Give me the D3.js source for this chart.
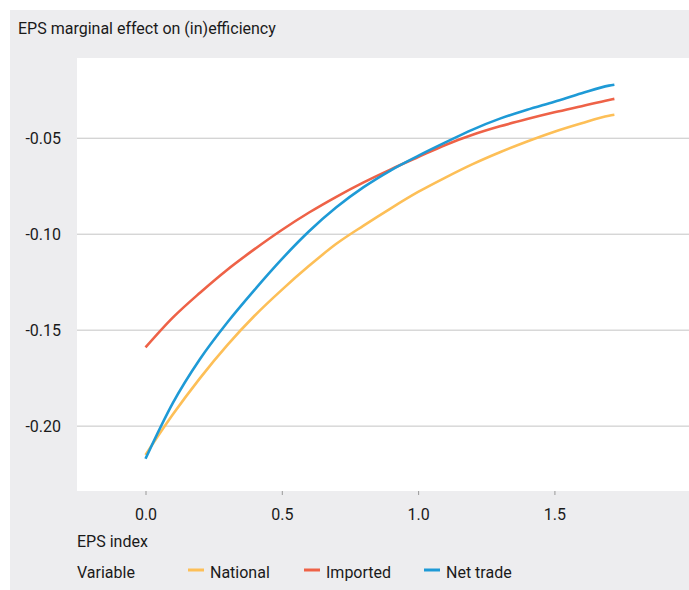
<!DOCTYPE html>
<html>
<head>
<meta charset="utf-8">
<script src="https://cdn.jsdelivr.net/npm/d3@7"></script>
<style>
  html, body { margin: 0; padding: 0; background: #fff; }
  svg { display: block; }
  text { font-family: Roboto, "Liberation Sans", Arial, sans-serif; fill: #1a1a1a; }
</style>
</head>
<body>
<svg id="chart" width="689" height="590"></svg>
<script>
// ---- data ----
const epsIndex = [0, 0.1, 0.2, 0.3, 0.4, 0.5, 0.6, 0.7, 0.8, 0.9, 1.0, 1.1, 1.2, 1.3, 1.4, 1.5, 1.6, 1.7, 1.72];
const national = [-0.215, -0.194, -0.175, -0.1578, -0.1425, -0.129, -0.1165, -0.105, -0.0955, -0.0865, -0.078, -0.0705, -0.0635, -0.0573, -0.0517, -0.0466, -0.0422, -0.0383, -0.0378];
const imported = [-0.159, -0.1435, -0.1305, -0.1185, -0.1078, -0.0978, -0.0887, -0.0805, -0.073, -0.0662, -0.0598, -0.0535, -0.0482, -0.0438, -0.0400, -0.0365, -0.0333, -0.0301, -0.0295];
const netTrade = [-0.217, -0.188, -0.165, -0.146, -0.129, -0.113, -0.0985, -0.086, -0.0755, -0.0667, -0.0592, -0.0522, -0.0455, -0.0398, -0.0352, -0.0310, -0.0266, -0.0226, -0.0221];
const seriesNames = ["National", "Imported", "Net trade"];
const seriesColors = ["#FDBF57", "#EE6247", "#1E9AD6"];
const xTicks = [0, 0.5, 1.0, 1.5];
const yTicks = [-0.20, -0.15, -0.10, -0.05];
const titleText = "EPS marginal effect on (in)efficiency";
const xLabel = "EPS index";
const legendTitle = "Variable";

const series = [national, imported, netTrade].map((vals, i) => ({
  name: seriesNames[i], color: seriesColors[i],
  points: epsIndex.map((x, j) => ({ x, y: vals[j] }))
}));

// ---- layout ----
const W = 689, H = 590;
const panel = { left: 77, top: 58, right: 689, bottom: 491 };
const svg = d3.select("#chart");

svg.append("rect").attr("x", 10).attr("y", 10).attr("width", W - 10).attr("height", H - 10)
  .attr("fill", "#EDEDEF");
svg.append("rect").attr("x", panel.left).attr("y", panel.top)
  .attr("width", panel.right - panel.left).attr("height", panel.bottom - panel.top)
  .attr("fill", "#ffffff");

const x = d3.scaleLinear().domain([-0.2513, 1.9937]).range([panel.left, panel.right]);
const y = d3.scaleLinear().domain([-0.2338, -0.0082]).range([panel.bottom, panel.top]);

// grid lines
svg.append("g").selectAll("line").data(yTicks).join("line")
  .attr("x1", panel.left).attr("x2", panel.right)
  .attr("y1", d => y(d)).attr("y2", d => y(d))
  .attr("stroke", "#C4C4C4").attr("stroke-width", 1);

// y axis labels
const yAxis = d3.axisLeft(y).tickValues(yTicks).tickFormat(d3.format(".2f")).tickSize(0).tickPadding(0);
const gy = svg.append("g").attr("transform", `translate(61,0)`).call(yAxis);
gy.select(".domain").remove();
gy.selectAll("text").attr("font-size", 16).attr("fill", "#1a1a1a")
  .attr("font-family", "Roboto, 'Liberation Sans', Arial, sans-serif")
  .text(d => d3.format(".2f")(d).replace("−", "-"));

// x axis
const xAxis = d3.axisBottom(x).tickValues(xTicks).tickFormat(d3.format(".1f")).tickSize(4).tickPadding(14);
const gx = svg.append("g").attr("transform", `translate(0,${panel.bottom})`).call(xAxis);
gx.select(".domain").remove();
gx.selectAll("line").attr("stroke", "#999").attr("stroke-width", 1);
gx.selectAll("text").attr("font-size", 16).attr("fill", "#1a1a1a")
  .attr("font-family", "Roboto, 'Liberation Sans', Arial, sans-serif");

// lines
const line = d3.line().x(d => x(d.x)).y(d => y(d.y)).curve(d3.curveMonotoneX);
svg.append("g").selectAll("path").data(series).join("path")
  .attr("d", d => line(d.points))
  .attr("fill", "none").attr("stroke", d => d.color)
  .attr("stroke-width", 2.6).attr("stroke-linejoin", "round");

// title
svg.append("text").attr("x", 18).attr("y", 33.5).attr("font-size", 16).text(titleText);
// x label
svg.append("text").attr("x", 77).attr("y", 547).attr("font-size", 16).text(xLabel);

// legend
const legY = 576;
svg.append("text").attr("x", 77).attr("y", legY + 2).attr("font-size", 16).text(legendTitle);
const legX = [188, 304, 424];
const leg = svg.append("g").selectAll("g").data(series).join("g")
  .attr("transform", (d, i) => `translate(${legX[i]},0)`);
leg.append("line").attr("x1", 0).attr("x2", 16).attr("y1", legY - 6).attr("y2", legY - 6)
  .attr("stroke", d => d.color).attr("stroke-width", 3);
leg.append("text").attr("x", 22).attr("y", legY + 2).attr("font-size", 16).text(d => d.name);
</script>
</body>
</html>
